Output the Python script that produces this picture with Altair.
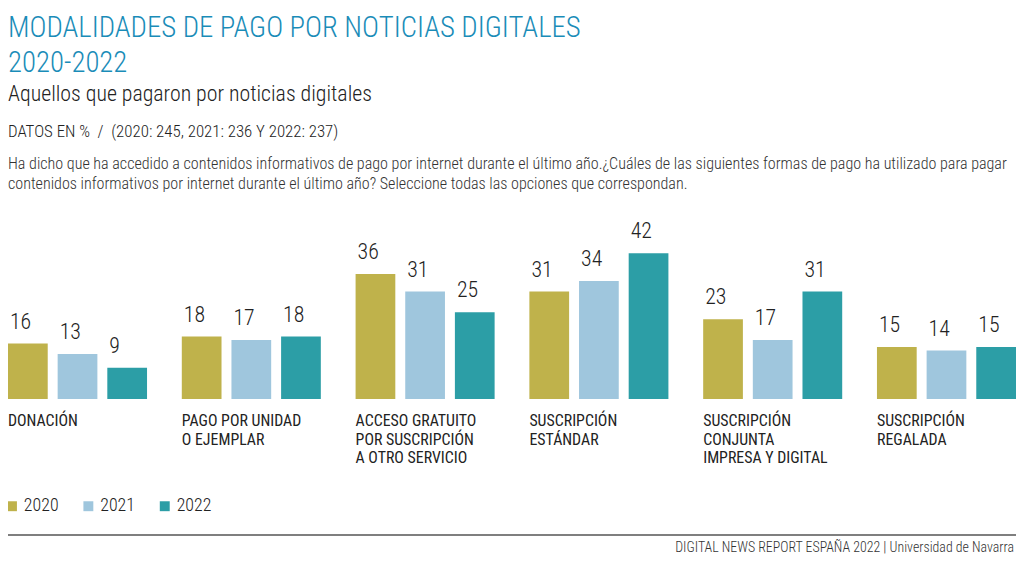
import altair as alt
import pandas as pd

# ---- data ----
cat_ids = ["don", "pago", "acceso", "estandar", "conjunta", "regalada"]
cat_labels = [
    "DONACIÓN",
    "PAGO POR UNIDAD\nO EJEMPLAR",
    "ACCESO GRATUITO\nPOR SUSCRIPCIÓN\nA OTRO SERVICIO",
    "SUSCRIPCIÓN\nESTÁNDAR",
    "SUSCRIPCIÓN\nCONJUNTA\nIMPRESA Y DIGITAL",
    "SUSCRIPCIÓN\nREGALADA",
]
years = ["2020", "2021", "2022"]
v2020 = [16, 18, 36, 31, 23, 15]
v2021 = [13, 17, 31, 34, 17, 14]
v2022 = [9, 18, 25, 42, 31, 15]
colors = ["#bfb24b", "#9fc6dd", "#2c9ea6"]

title_text = "MODALIDADES DE PAGO POR NOTICIAS DIGITALES\n2020-2022"
subtitle_text = "Aquellos que pagaron por noticias digitales"
datos_text = "DATOS EN %\u00a0\u00a0/\u00a0\u00a0(2020: 245, 2021: 236 Y 2022: 237)"
question_text = ("Ha dicho que ha accedido a contenidos informativos de pago por internet durante el último año.¿Cuáles de las siguientes formas de pago ha utilizado para pagar\n"
                 "contenidos informativos por internet durante el último año? Seleccione todas las opciones que correspondan.")
footer_text = "DIGITAL NEWS REPORT ESPAÑA 2022 | Universidad de Navarra"

FONT = "Roboto Condensed"

rows = []
for yr, vals in zip(years, [v2020, v2021, v2022]):
    for c, v in zip(cat_ids, vals):
        rows.append({"cat": c, "year": yr, "value": v})
df = pd.DataFrame(rows)
labels_df = pd.DataFrame({"cat": cat_ids, "label": cat_labels})

W, H = 1016, 549

x_scale = alt.Scale(domain=cat_ids, paddingInner=0.2, paddingOuter=0)
x_enc = alt.X("cat:N", sort=cat_ids, axis=None, scale=x_scale)
xoff = alt.XOffset("year:N", sort=years,
                   scale=alt.Scale(domain=years, paddingInner=0.2, paddingOuter=0))
y_enc = alt.Y("value:Q", axis=None,
              scale=alt.Scale(domain=[0, 42], range=[392, 245], nice=False, zero=True))

bars = alt.Chart(df).mark_bar().encode(
    x=x_enc, xOffset=xoff, y=y_enc,
    color=alt.Color("year:N", sort=years,
                    scale=alt.Scale(domain=years, range=colors),
                    legend=alt.Legend(title=None, orient="none", legendX=-5, legendY=491,
                                      direction="horizontal", symbolType="square",
                                      symbolSize=100, symbolStrokeWidth=0, symbolOpacity=1,
                                      labelFontSize=18, labelFont=FONT, labelFontWeight=300,
                                      labelColor="#222222",
                                      columnPadding=20, labelOffset=3)),
)

values = alt.Chart(df).mark_text(align="left", baseline="alphabetic", dx=-18, dy=-15,
                                 fontSize=22, font=FONT, fontWeight=300, color="#222222").encode(
    x=x_enc, xOffset=xoff, y=y_enc, text="value:Q")

cats = alt.Chart(labels_df).mark_text(align="left", baseline="alphabetic", lineBreak="\n",
                                      lineHeight=18.8, fontSize=16, font=FONT, color="#222222").encode(
    x=alt.X("cat:N", sort=cat_ids, axis=None, bandPosition=0, scale=x_scale),
    y=alt.value(419), text="label:N")


def txt(s, y, size, color, lh=None, align="left", x=0, weight=300):
    kw = dict(align=align, baseline="alphabetic", fontSize=size, font=FONT, color=color,
              lineBreak="\n", fontWeight=weight)
    if lh:
        kw["lineHeight"] = lh
    return alt.Chart(pd.DataFrame({"t": [s]})).mark_text(**kw).encode(
        text="t:N", x=alt.value(x), y=alt.value(y))


title = txt(title_text, 27, 29, "#1a8cb8", lh=35)
subtitle = txt(subtitle_text, 92, 22, "#222222")
datos = txt(datos_text, 128, 17, "#222222")
question = txt(question_text, 160, 16.2, "#333333", lh=20)
footer = txt(footer_text, 546, 14, "#333333", align="right", x=1014)

rule = alt.Chart(pd.DataFrame({"a": [0]})).mark_rule(color="#555555", strokeWidth=1.5).encode(
    x=alt.value(0), x2=alt.value(W), y=alt.value(529))

chart = alt.layer(bars, values, cats, title, subtitle, datos, question, rule, footer).properties(
    width=W, height=H, padding=0, autosize=alt.AutoSizeParams(type="none"),
    background="white",
).configure_view(stroke=None)

chart.save("out.html", embed_options={"renderer": "svg", "actions": False})
